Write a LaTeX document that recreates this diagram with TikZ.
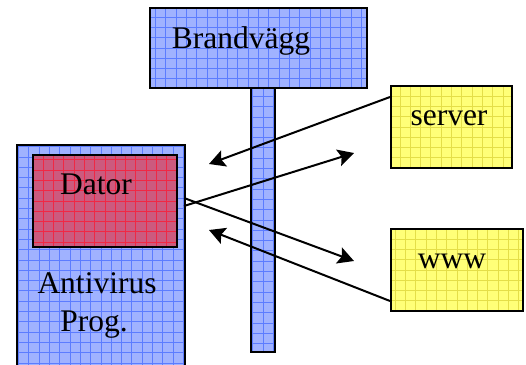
\documentclass[tikz,border=0pt]{standalone}
\usepackage{fontspec}
\setmainfont{Liberation Serif}
\usetikzlibrary{arrows.meta}

\definecolor{bluefill}{HTML}{A0B2FF}
\definecolor{blueline}{HTML}{5C7CFF}
\definecolor{redfill}{HTML}{CC5A7E}
\definecolor{redline}{HTML}{F02844}
\definecolor{yelfill}{HTML}{FFFF78}
\definecolor{yelline}{HTML}{E4DE48}

\tikzset{
  gridbox/.style n args={2}{draw=black, line width=2pt, fill=#1, inner sep=0pt,
    anchor=north west,
    path picture={\draw[#2, line width=0.9pt, step=10.3pt]
      (path picture bounding box.south west) grid (path picture bounding box.north east);}},
  bluebox/.style={gridbox={bluefill}{blueline}},
  redbox/.style={gridbox={redfill}{redline}},
  yellowbox/.style={gridbox={yelfill}{yelline}},
  label/.style={font=\fontsize{31.5}{36}\selectfont, inner sep=0pt, anchor=base},
  arr/.style={line width=2pt, -{Stealth[length=16pt, width=17pt, inset=3pt]}},
}

\begin{document}
\begin{tikzpicture}[x=1pt, y=-1pt]
  \useasboundingbox (0,0) rectangle (526,364);
  \clip (0,0) rectangle (526,364);

  % firewall: pole and top plate
  \node[bluebox, minimum width=24pt, minimum height=264pt] (pole) at (250,87) {};
  \node[bluebox, minimum width=217pt, minimum height=80pt] (wall) at (149,7) {};
  \node[label] (walltext) at (241,48) {Brandvägg};

  % local machine with antivirus
  \node[bluebox, minimum width=168pt, minimum height=230pt] (av) at (16,144) {};
  \node[redbox, minimum width=144pt, minimum height=92pt] (dator) at (32,154) {};
  \node[label] (datortext) at (96,194) {Dator};
  \node[label] (avtext1) at (97,293) {Antivirus};
  \node[label] (avtext2) at (94,331) {Prog.};

  % outside hosts
  \node[yellowbox, minimum width=121pt, minimum height=82pt] (server) at (390,85) {};
  \node[label] (servertext) at (449,125) {server};
  \node[yellowbox, minimum width=132pt, minimum height=82pt] (www) at (390,228) {};
  \node[label] (wwwtext) at (452,268) {www};

  % connection end points
  \coordinate (srvout) at (390,97);
  \coordinate (wwwout) at (390,301);
  \coordinate (avout1) at (184,198);
  \coordinate (avout2) at (184,206);
  \coordinate (tipin1) at (209,164);
  \coordinate (tipin2) at (209,230);
  \coordinate (tipout1) at (354,153);
  \coordinate (tipout2) at (354,261);

  % traffic through the firewall
  \draw[arr] (srvout) -- (tipin1);
  \draw[arr] (avout2) -- (tipout1);
  \draw[arr] (avout1) -- (tipout2);
  \draw[arr] (wwwout) -- (tipin2);
\end{tikzpicture}
\end{document}
